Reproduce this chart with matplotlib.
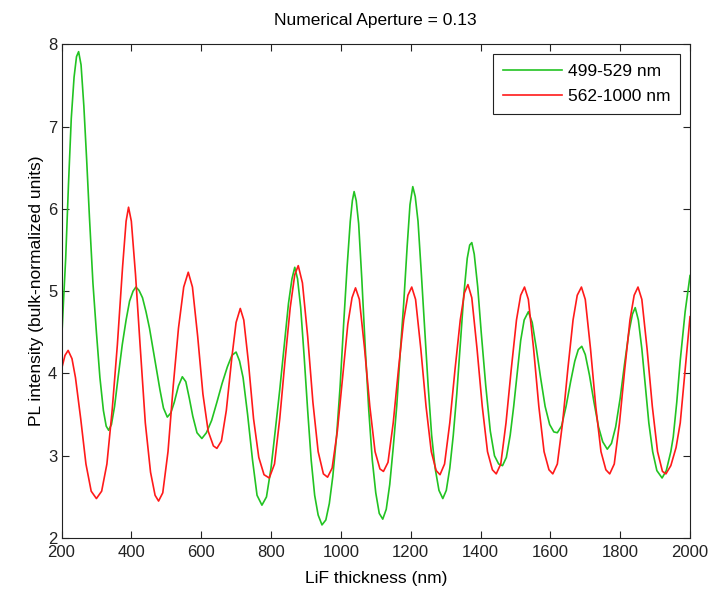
import matplotlib
matplotlib.use("Agg")
import matplotlib.pyplot as plt

# values
green_x = [200, 206, 212, 220, 228, 236, 243, 249, 256, 264, 272, 280, 290, 300, 310, 320, 328, 335,
           343, 352, 362, 374, 385, 395, 405, 413, 422, 432, 442, 452, 462, 472, 482, 492, 503, 513,
           523, 535, 546, 556, 566, 576, 588, 602, 615, 630, 645, 660, 675, 688, 700, 710, 720, 733,
           747, 760, 774, 787, 800, 812, 825, 838, 850, 860, 868, 876, 885, 895, 905, 915, 925, 935,
           946, 957, 967, 977, 988, 998, 1008, 1018, 1027, 1033, 1038, 1044, 1051, 1060, 1070, 1080,
           1090, 1100, 1110, 1120, 1130, 1140, 1150, 1160, 1170, 1180, 1190, 1198, 1206, 1213, 1221,
           1230, 1240, 1250, 1260, 1270, 1281, 1292, 1302, 1312, 1322, 1332, 1342, 1352, 1362, 1369,
           1375, 1382, 1392, 1402, 1415, 1428, 1440, 1452, 1463, 1474, 1485, 1495, 1505, 1515, 1525,
           1537, 1548, 1560, 1572, 1585, 1598, 1610, 1620, 1632, 1645, 1658, 1670, 1680, 1690, 1700,
           1712, 1725, 1738, 1750, 1763, 1775, 1787, 1800, 1812, 1825, 1835, 1843, 1852, 1862, 1872,
           1882, 1893, 1905, 1920, 1932, 1945, 1952, 1962, 1972, 1986, 2000]
green_y = [4.37, 4.90, 5.40, 6.30, 7.10, 7.60, 7.85, 7.91, 7.75, 7.25, 6.60, 5.90, 5.10, 4.50, 3.95,
           3.55, 3.36, 3.31, 3.38, 3.60, 3.95, 4.35, 4.65, 4.88, 5.00, 5.05, 5.01, 4.92, 4.75, 4.55,
           4.30, 4.05, 3.80, 3.58, 3.47, 3.52, 3.65, 3.85, 3.96, 3.90, 3.70, 3.48, 3.28, 3.21, 3.28,
           3.43, 3.65, 3.88, 4.08, 4.22, 4.26, 4.15, 3.95, 3.50, 2.95, 2.52, 2.40, 2.50, 2.85, 3.30,
           3.80, 4.35, 4.85, 5.15, 5.29, 5.15, 4.80, 4.20, 3.55, 2.95, 2.52, 2.28, 2.16, 2.22, 2.42,
           2.75, 3.25, 3.85, 4.60, 5.30, 5.85, 6.10, 6.21, 6.10, 5.82, 5.15, 4.30, 3.55, 2.95, 2.55,
           2.30, 2.23, 2.35, 2.65, 3.10, 3.60, 4.25, 4.85, 5.55, 6.05, 6.27, 6.15, 5.85, 5.25, 4.55,
           3.85, 3.25, 2.85, 2.58, 2.48, 2.58, 2.85, 3.25, 3.75, 4.35, 4.95, 5.40, 5.56, 5.59, 5.45,
           5.05, 4.50, 3.85, 3.30, 3.00, 2.90, 2.88, 2.98, 3.25, 3.60, 4.00, 4.40, 4.65, 4.75, 4.62,
           4.30, 3.95, 3.60, 3.38, 3.29, 3.28, 3.36, 3.60, 3.90, 4.15, 4.29, 4.33, 4.23, 3.98, 3.65,
           3.35, 3.17, 3.08, 3.15, 3.35, 3.70, 4.10, 4.50, 4.72, 4.80, 4.65, 4.30, 3.85, 3.40, 3.05,
           2.82, 2.73, 2.82, 3.05, 3.23, 3.65, 4.16, 4.75, 5.19]

red_x = [200, 210, 219, 230, 240, 255, 270, 285, 300, 315, 330, 345, 360, 375, 385, 392, 400, 412,
         425, 440, 455, 468, 478, 490, 505, 520, 535, 550, 563, 575, 590, 605, 620, 635, 645, 658,
         672, 688, 700, 712, 722, 735, 750, 765, 780, 795, 810, 825, 840, 855, 868, 878, 890, 905,
         920, 935, 950, 962, 975, 990, 1005, 1020, 1032, 1042, 1053, 1068, 1083, 1098, 1112, 1122,
         1135, 1150, 1165, 1180, 1192, 1203, 1214, 1229, 1244, 1259, 1273, 1284, 1297, 1312, 1327,
         1342, 1354, 1364, 1375, 1390, 1405, 1420, 1434, 1445, 1458, 1473, 1488, 1503, 1515, 1526,
         1537, 1552, 1567, 1582, 1596, 1607, 1620, 1635, 1650, 1665, 1677, 1689, 1700, 1715, 1730,
         1745, 1759, 1770, 1783, 1798, 1813, 1828, 1840, 1851, 1862, 1877, 1892, 1907, 1921, 1931,
         1945, 1960, 1972, 1986, 2000]
red_y = [4.05, 4.22, 4.28, 4.18, 3.95, 3.45, 2.90, 2.57, 2.48, 2.57, 2.90, 3.55, 4.35, 5.30, 5.85,
         6.02, 5.85, 5.20, 4.35, 3.40, 2.80, 2.52, 2.45, 2.55, 3.05, 3.85, 4.55, 5.05, 5.23, 5.05,
         4.45, 3.75, 3.30, 3.12, 3.09, 3.18, 3.55, 4.20, 4.62, 4.79, 4.65, 4.15, 3.45, 2.98, 2.77,
         2.73, 2.90, 3.45, 4.15, 4.80, 5.20, 5.31, 5.10, 4.45, 3.65, 3.05, 2.78, 2.74, 2.85, 3.30,
         3.95, 4.60, 4.92, 5.04, 4.90, 4.30, 3.60, 3.05, 2.84, 2.81, 2.92, 3.40, 4.05, 4.65, 4.95,
         5.05, 4.90, 4.30, 3.60, 3.05, 2.82, 2.77, 2.90, 3.40, 4.05, 4.65, 4.98, 5.08, 4.92, 4.30,
         3.60, 3.05, 2.83, 2.78, 2.90, 3.40, 4.05, 4.65, 4.95, 5.05, 4.90, 4.30, 3.60, 3.05, 2.83,
         2.78, 2.90, 3.40, 4.05, 4.65, 4.95, 5.05, 4.90, 4.30, 3.60, 3.05, 2.83, 2.78, 2.90, 3.40,
         4.05, 4.65, 4.95, 5.05, 4.90, 4.30, 3.60, 3.05, 2.81, 2.78, 2.88, 3.10, 3.40, 4.05, 4.69]

x_ticks = [200, 400, 600, 800, 1000, 1200, 1400, 1600, 1800, 2000]
y_ticks = [2, 3, 4, 5, 6, 7, 8]

plt.rcParams["font.family"] = ["Liberation Sans", "DejaVu Sans"]
plt.rcParams["font.size"] = 12

fig = plt.figure(figsize=(7.11, 5.90), dpi=100)
ax = fig.add_axes([0.0865, 0.088, 0.884, 0.837])

ax.plot(green_x, green_y, color="#22c322", linewidth=1.2, label="499-529 nm")
ax.plot(red_x, red_y, color="#ff1a1a", linewidth=1.2, label="562-1000 nm")

ax.set_xlim(200, 2000)
ax.set_ylim(2, 8)
ax.set_xticks(x_ticks)
ax.set_yticks(y_ticks)
ax.tick_params(direction="in", top=True, right=True, length=5, width=0.8,
               colors="#222222", labelsize=12, pad=3)
ax.tick_params(axis="x", pad=5)
for s in ax.spines.values():
    s.set_linewidth(0.8)
    s.set_color("#222222")

ax.set_title("Numerical Aperture = 0.13", fontsize=12.5, pad=14)
ax.set_xlabel("LiF thickness (nm)", fontsize=12.5, labelpad=8)
ax.set_ylabel("PL intensity (bulk-normalized units)", fontsize=12.5, labelpad=3)

leg = ax.legend(loc="upper right", fancybox=False, framealpha=1, edgecolor="#222222",
                handlelength=3.4, handletextpad=0.3, borderpad=0.6, labelspacing=0.55,
                fontsize=12.5, borderaxespad=0.55)
leg.get_frame().set_linewidth(0.8)

fig.savefig("out.png", dpi=100)
